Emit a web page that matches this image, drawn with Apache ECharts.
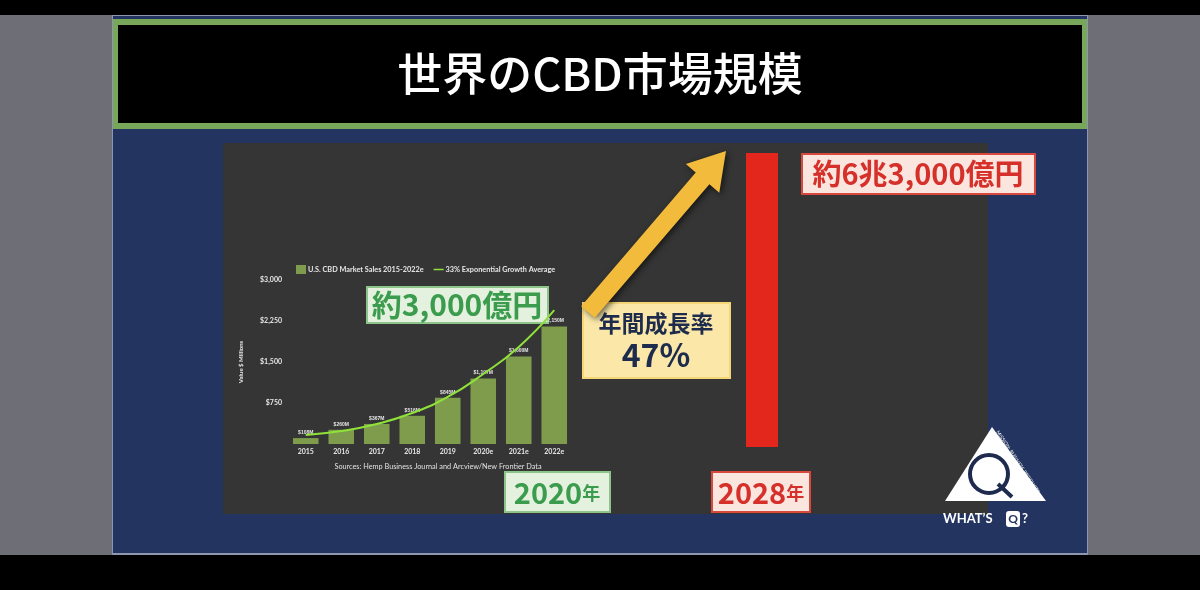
<!DOCTYPE html>
<html><head><meta charset="utf-8">
<script src="https://cdn.jsdelivr.net/npm/echarts@6/dist/echarts.min.js"></script>
<style>html,body{margin:0;padding:0;background:#000}#c{width:1200px;height:590px}</style>
</head><body><div id="c"></div>
<script>
const categories = ['2015','2016','2017','2018','2019','2020e','2021e','2022e'];
const salesValues = [108, 260, 367, 516, 845, 1197, 1600, 2150];
const salesLabels = ['$108M','$260M','$367M','$516M','$845M','$1,197M','$1,600M','$2,150M'];
const growthValues = [165, 238, 366, 567, 860, 1280, 1775, 2450];
const forecastCategories = ['2028年'];
const forecastValues = [63000];

const JP = '"Noto Sans CJK JP", sans-serif';
const chart = echarts.init(document.getElementById('c'), null, {renderer:'canvas'});

function box(x,y,w,h,fill,stroke,children){
  return {type:'group', z:50, children:[{type:'rect', shape:{x:x,y:y,width:w,height:h}, style:{fill:fill, stroke:stroke, lineWidth:2}}].concat(children)};
}
// arrow polygon
const tail=[588,312], tip=[726,151];
const dx=tip[0]-tail[0], dy=tip[1]-tail[1], L=Math.hypot(dx,dy);
const ux=dx/L, uy=dy/L, nx=-uy, ny=ux;
const sw=9, hl=36, hw=22;
const se=[tip[0]-hl*ux, tip[1]-hl*uy];
const arrowPts=[[tail[0]+sw*nx,tail[1]+sw*ny],[se[0]+sw*nx,se[1]+sw*ny],[se[0]+hw*nx,se[1]+hw*ny],tip,[se[0]-hw*nx,se[1]-hw*ny],[se[0]-sw*nx,se[1]-sw*ny],[tail[0]-sw*nx,tail[1]-sw*ny]];

const lineIcon = 'path://M0,0L0.01,0L0.01,0.01Z M0,3.8H10V5.2H0Z M9.99,9L10,9L10,8.99Z';

const option = {
  backgroundColor:'#000',
  animation:false,
  graphic:[
    {type:'rect', z:-10, shape:{x:0,y:15,width:1200,height:540}, style:{fill:'#6d6e76'}},
    {type:'rect', z:-9, shape:{x:112,y:15,width:976,height:540}, style:{fill:'#8d97ad'}},
    {type:'rect', z:-8, shape:{x:113,y:16,width:974,height:537}, style:{fill:'#243461'}},
    {type:'rect', z:-7, shape:{x:113,y:19,width:974,height:110}, style:{fill:'#78a75a'}},
    {type:'rect', z:-6, shape:{x:118,y:25,width:964,height:98}, style:{fill:'#000'}},
    {type:'text', z:5, style:{text:'世界のCBD市場規模', x:600, y:74, align:'center', verticalAlign:'middle', font:'500 45px '+JP, fill:'#fff'}},
    {type:'rect', z:-5, shape:{x:223,y:143,width:765,height:371}, style:{fill:'#363535'}},
    {type:'text', z:5, style:{text:'Sources: Hemp Business Journal and Arcview/New Frontier Data', x:438, y:467, align:'center', verticalAlign:'middle', font:'7.3px Lato, sans-serif', fill:'#e0e0e0'}},
    {type:'polygon', z:40, shape:{points:arrowPts}, style:{fill:'#f2bb3b', shadowBlur:6, shadowColor:'rgba(0,0,0,0.6)', shadowOffsetX:2, shadowOffsetY:2}},
    box(367,287,181,36,'#e4f1df','#8cc48a',[{type:'text', style:{text:'約3,000億円', x:457,y:305, align:'center', verticalAlign:'middle', font:'bold 30px '+JP, fill:'#3b9c4d'}}]),
    box(583,303,147,75,'#fbe8a8','#f5d677',[
      {type:'text', style:{text:'年間成長率', x:656,y:323, align:'center', verticalAlign:'middle', font:'bold 23px '+JP, fill:'#1d2b4c'}},
      {type:'text', style:{text:'47%', x:656,y:355, align:'center', verticalAlign:'middle', font:'bold 32px '+JP, fill:'#1d2b4c'}}]),
    box(802,154,233,40,'#fbe5df','#d9483c',[{type:'text', style:{text:'約6兆3,000億円', x:918,y:174, align:'center', verticalAlign:'middle', font:'bold 29px '+JP, fill:'#d6302a'}}]),
    box(505,472,105,40,'#e4f1df','#8cc48a',[{type:'text', style:{text:'{a|2020}{b|年}', x:557,y:493, align:'center', verticalAlign:'middle', rich:{a:{font:'bold 29px '+JP, fill:'#3b9c4d'}, b:{font:'bold 18px '+JP, fill:'#3b9c4d'}}}}]),
    box(712,472,98,40,'#fbe5df','#d9483c',[{type:'text', style:{text:'{a|2028}{b|年}', x:761,y:493, align:'center', verticalAlign:'middle', rich:{a:{font:'bold 29px '+JP, fill:'#d6302a'}, b:{font:'bold 18px '+JP, fill:'#d6302a'}}}}]),
    // logo
    {type:'polygon', z:60, shape:{points:[[992,427],[945,501],[1046,501]]}, style:{fill:'#fff'}},
    {type:'circle', z:61, shape:{cx:989,cy:474,r:19}, style:{fill:'none', stroke:'#1e2b4f', lineWidth:4}},
    {type:'line', z:61, shape:{x1:998,y1:484,x2:1012,y2:497}, style:{stroke:'#1e2b4f', lineWidth:4}},
    {type:'text', z:61, rotation:-Math.PI/3.2, x:1018, y:462, style:{text:'MISSION: BUSINESS PRODUCTS', x:0, y:0, align:'center', verticalAlign:'middle', font:'5px Lato, sans-serif', fill:'#fff'}},
    {type:'text', z:61, style:{text:'WHAT\u2019S', x:943, y:519, verticalAlign:'middle', font:'bold 13px Lato, sans-serif', fill:'#fff'}},
    {type:'rect', z:61, shape:{x:1006,y:511,width:14,height:16,r:3}, style:{fill:'#fff'}},
    {type:'text', z:62, style:{text:'Q', x:1013, y:519, align:'center', verticalAlign:'middle', font:'bold 12px Lato, sans-serif', fill:'#243461'}},
    {type:'text', z:61, style:{text:'?', x:1022, y:519, verticalAlign:'middle', font:'bold 13px Lato, sans-serif', fill:'#fff'}}
  ],
  legend:{
    left:291, top:260, itemWidth:10, itemHeight:9, itemGap:10,
    textStyle:{color:'#e6e6e6', fontSize:7.3, fontFamily:'Lato, sans-serif', fontWeight:'bold', padding:[0,0,0,-3]},
    data:[{name:'U.S. CBD Market Sales 2015-2022e', icon:'rect'}, {name:'33% Exponential Growth Average', icon:lineIcon}]
  },
  grid:[
    {left:288, top:280, width:284, height:164},
    {left:740, top:153, width:44, height:294}
  ],
  xAxis:[
    {type:'category', gridIndex:0, data:categories, axisLine:{show:false}, axisTick:{show:false},
     axisLabel:{color:'#e6e6e6', fontSize:7, fontWeight:'bold', fontFamily:'Lato, sans-serif', margin:4}},
    {type:'category', gridIndex:1, data:forecastCategories, show:false}
  ],
  yAxis:[
    {type:'value', gridIndex:0, min:0, max:3000, interval:750, splitLine:{show:false}, axisLine:{show:false}, axisTick:{show:false},
     axisLabel:{color:'#e6e6e6', fontSize:7, fontWeight:'bold', fontFamily:'Lato, sans-serif', margin:6,
       formatter:v=> v===0 ? '' : '$'+v.toLocaleString('en-US')},
     name:'Value $ Millions', nameLocation:'middle', nameGap:44, nameRotate:90,
     nameTextStyle:{color:'#e6e6e6', fontSize:6, fontWeight:'bold', fontFamily:'Lato, sans-serif'}},
    {type:'value', gridIndex:1, min:0, max:63000, show:false}
  ],
  series:[
    {name:'U.S. CBD Market Sales 2015-2022e', type:'bar', xAxisIndex:0, yAxisIndex:0, data:salesValues, barWidth:'72%',
     itemStyle:{color:'#7e9c4c'},
     label:{show:true, position:'top', distance:3, fontSize:5, color:'#e6e6e6', fontWeight:'bold', formatter:p=>salesLabels[p.dataIndex]}},
    {name:'33% Exponential Growth Average', type:'line', xAxisIndex:0, yAxisIndex:0, data:growthValues, smooth:0.5, symbol:'none', z:5,
     lineStyle:{color:'#8fe23a', width:2}, itemStyle:{color:'#8fe23a'}},
    {name:'forecast', type:'bar', xAxisIndex:1, yAxisIndex:1, data:forecastValues, barWidth:32, itemStyle:{color:'#e3271c'}}
  ]
};
chart.setOption(option);
</script></body></html>
